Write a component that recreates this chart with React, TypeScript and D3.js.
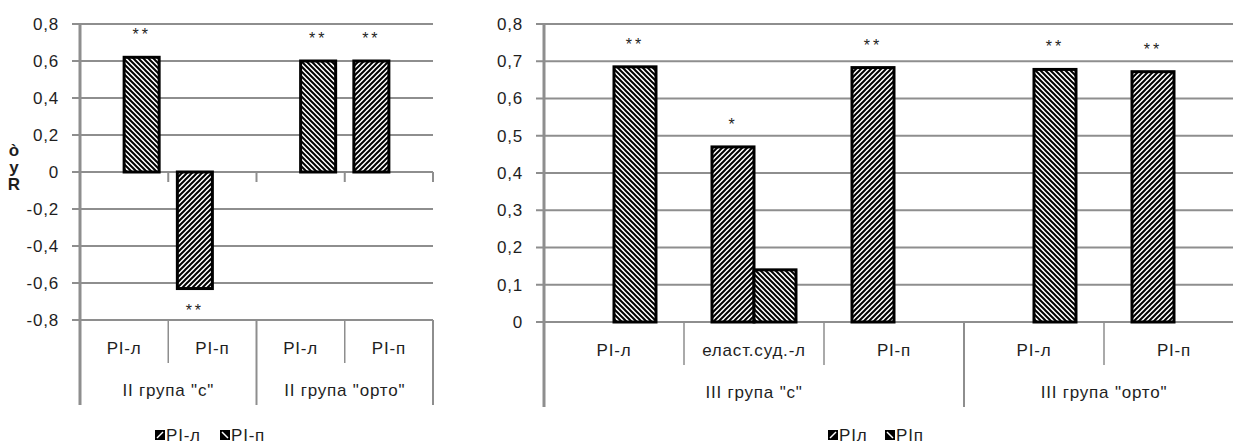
import React from 'react'
import * as d3 from 'd3'

const width = 1233
const height = 444

// left panel
const leftCats = ['PI-л', 'PI-п', 'PI-л', 'PI-п']
const leftGroups = ['II група "с"', 'II група "орто"']
const leftGroupSizes = [2, 2]
const leftS1 = [null, -0.63, null, 0.6]
const leftS2 = [0.62, null, 0.6, null]
const leftStars1 = ['', '**', '', '**']
const leftStars2 = ['**', '', '**', '']
const leftTicks = [-0.8, -0.6, -0.4, -0.2, 0, 0.2, 0.4, 0.6, 0.8]
const leftLegend = ['PI-л', 'PI-п']
const yTitle = 'òуR'

// right panel
const rightCats = ['PI-л', 'еласт.суд.-л', 'PI-п', 'PI-л', 'PI-п']
const rightGroups = ['III група "с"', 'III група "орто"']
const rightGroupSizes = [3, 2]
const rightS1 = [null, 0.47, 0.683, null, 0.672]
const rightS2 = [0.685, 0.14, null, 0.678, null]
const rightStars1 = ['', '*', '**', '', '**']
const rightStars2 = ['**', '', '', '**', '']
const rightTicks = [0, 0.1, 0.2, 0.3, 0.4, 0.5, 0.6, 0.7, 0.8]
const rightLegend = ['PIл', 'PIп']

const grid = '#8e8e8e'
const ink = '#1e1e1e'
const font = '"Liberation Sans", Arial, sans-serif'
const fmt = (v: number) => d3.format('.1f')(v).replace('.', ',').replace('−', '-').replace(/^-?0,0$/, '0')

const Panel = ({ cats, groups, groupSizes, s1, s2, stars1, stars2, ticks, x0, x1, yTop, yBottom, domain, pad, catY, groupY, catLineEnd, groupLineEnd }: any) => {
  const x = d3.scaleBand<number>().domain(d3.range(cats.length)).range([x0, x1])
  const y = d3.scaleLinear().domain(domain).range([yBottom, yTop])
  const sub = d3.scaleBand().domain(['s1', 's2']).range([0, x.bandwidth()]).paddingOuter(pad)
  const zero = y(0)
  const labelTop = y(domain[0])

  const bars: any[] = []
  cats.forEach((_: string, i: number) => {
    ;[['s1', s1[i], stars1[i]], ['s2', s2[i], stars2[i]]].forEach(([k, v, st]: any) => {
      if (v == null) return
      const bx = (x(i) as number) + (sub(k) as number)
      bars.push({ k, x: bx, w: sub.bandwidth(), y: Math.min(y(v), zero), h: Math.abs(y(v) - zero), v, st })
    })
  })

  let acc = 0
  const bounds = [0]
  groupSizes.forEach((n: number) => { acc += n; bounds.push(acc) })
  const edge = (i: number) => i < cats.length ? (x(i) as number) : x1

  return (
    <g letterSpacing={0.8}>
      {ticks.map((t: number) => (
        <g key={t}>
          <line x1={x0 - 8} x2={x1} y1={y(t)} y2={y(t)} stroke={grid} strokeWidth={2} />
          <text x={x0 - 21} y={y(t)} dy="0.35em" textAnchor="end" fontSize={17} fill={ink}>{fmt(t)}</text>
        </g>
      ))}
      {zero !== labelTop && d3.range(1, cats.length + 1).map(i => (
        <line key={i} x1={edge(i)} x2={edge(i)} y1={zero} y2={zero + 10} stroke={grid} strokeWidth={2} />
      ))}
      {d3.range(1, cats.length + 1).filter(i => !bounds.includes(i)).map(i => (
        <line key={i} x1={edge(i)} x2={edge(i)} y1={labelTop} y2={catLineEnd} stroke={grid} strokeWidth={1.5} />
      ))}
      {bounds.map(i => (
        <line key={'g' + i} x1={edge(i)} x2={edge(i)} y1={i === 0 ? yTop : labelTop} y2={groupLineEnd} stroke={grid} strokeWidth={i === 0 ? 3 : 2} />
      ))}
      {cats.map((c: string, i: number) => (
        <text key={i} x={(x(i) as number) + x.bandwidth() / 2} y={catY} dy="0.35em" textAnchor="middle" fontSize={17} fill={ink}>{c}</text>
      ))}
      {groups.map((g: string, gi: number) => (
        <text key={g} x={(edge(bounds[gi]) + edge(bounds[gi + 1])) / 2} y={groupY} dy="0.35em" textAnchor="middle" fontSize={17} fill={ink}>{g}</text>
      ))}
      {bars.map((b, i) => (
        <g key={i}>
          <rect x={b.x} y={b.y} width={b.w} height={b.h} fill={`url(#hatch-${b.k})`} stroke="#000" strokeWidth={3} />
          {b.st && (
            <text x={b.x + b.w / 2} y={b.v >= 0 ? b.y - 17 : b.y + b.h + 27} textAnchor="middle" fontSize={16} letterSpacing={3} fill={ink}>{b.st}</text>
          )}
        </g>
      ))}
    </g>
  )
}

const Legend = ({ labels, x, y, gap }: any) => (
  <g fontSize={17} fill={ink} letterSpacing={0.8}>
    {labels.map((l: string, i: number) => {
      const lx = x + i * gap
      return (
        <g key={l}>
          <rect x={lx} y={y - 5} width={10} height={10} fill="#000" />
          <line x1={lx + 2} x2={lx + 8} y1={i === 0 ? y + 3 : y - 3} y2={i === 0 ? y - 3 : y + 3} stroke="#fff" strokeWidth={1.5} />
          <text x={lx + 11} y={y} dy="0.35em">{l}</text>
        </g>
      )
    })}
  </g>
)

const App = () => (
  <svg width={width} height={height} style={{ position: 'absolute', left: 0, top: 0, background: '#fff' }} fontFamily={font}>
    <defs>
      <pattern id="hatch-s1" patternUnits="userSpaceOnUse" width={5} height={5}>
        <rect width={5} height={5} fill="#fff" />
        <path d="M-1,1 l2,-2 M0,5 l5,-5 M4,6 l2,-2" stroke="#000" strokeWidth={2} />
      </pattern>
      <pattern id="hatch-s2" patternUnits="userSpaceOnUse" width={5} height={5}>
        <rect width={5} height={5} fill="#fff" />
        <path d="M-1,4 l2,2 M0,0 l5,5 M4,-1 l2,2" stroke="#000" strokeWidth={2} />
      </pattern>
    </defs>
    <Panel cats={leftCats} groups={leftGroups} groupSizes={leftGroupSizes} s1={leftS1} s2={leftS2}
      stars1={leftStars1} stars2={leftStars2} ticks={leftTicks} x0={80} x1={433} yTop={24} yBottom={320}
      domain={[-0.8, 0.8]} pad={0.26} catY={348} groupY={390} catLineEnd={363} groupLineEnd={405} />
    <Panel cats={rightCats} groups={rightGroups} groupSizes={rightGroupSizes} s1={rightS1} s2={rightS2}
      stars1={rightStars1} stars2={rightStars2} ticks={rightTicks} x0={544} x1={1244} yTop={24} yBottom={322}
      domain={[0, 0.8]} pad={0.667} catY={350} groupY={392} catLineEnd={365} groupLineEnd={407} />
    <text fontSize={17} fontWeight="bold" fill={ink} textAnchor="middle" x={14} y={166}
      style={{ writingMode: 'vertical-rl', textOrientation: 'upright' } as any} letterSpacing={-2}>
      {yTitle}
    </text>
    <Legend labels={leftLegend} x={155} y={435} gap={65} />
    <Legend labels={rightLegend} x={828} y={435} gap={57} />
  </svg>
)

export default App
